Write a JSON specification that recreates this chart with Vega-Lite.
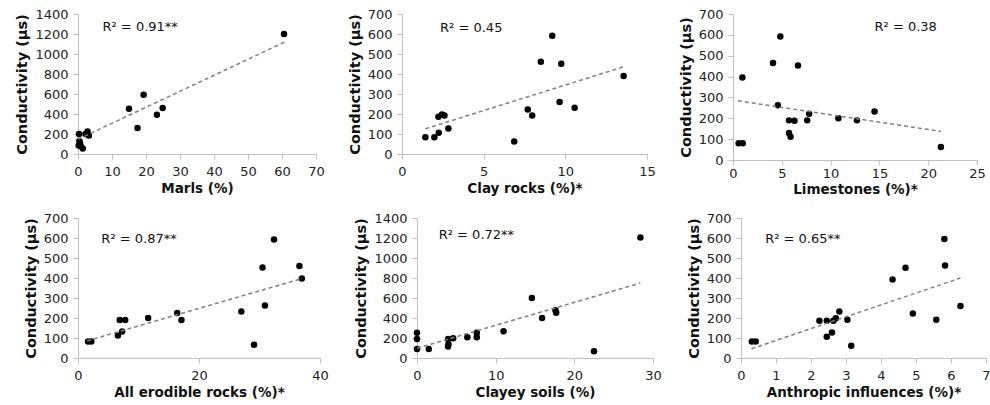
{
  "$schema": "https://vega.github.io/schema/vega-lite/v6.json",
  "padding": {"left": 14, "top": 8, "right": 5, "bottom": 5},
  "background": "white",
  "columns": 1,
  "align": "none",
  "spacing": 16,
  "datasets": {
    "marls": [{"x":0.3,"y":200},{"x":0.2,"y":85},{"x":0.6,"y":110},{"x":0.4,"y":130},{"x":1.4,"y":55},{"x":2.8,"y":226},{"x":3.2,"y":186},{"x":2.2,"y":200},{"x":0.8,"y":80},{"x":15,"y":452},{"x":17.5,"y":259},{"x":19.3,"y":592},{"x":23.2,"y":392},{"x":24.9,"y":459},{"x":60.6,"y":1200}],
    "marls_trend": [{"x":0,"y":147},{"x":61,"y":1123}],
    "clay": [{"x":1.43,"y":84},{"x":1.98,"y":84},{"x":2.25,"y":106},{"x":2.23,"y":186},{"x":2.45,"y":198},{"x":2.6,"y":193},{"x":2.84,"y":127},{"x":6.87,"y":62},{"x":7.7,"y":223},{"x":7.97,"y":193},{"x":8.5,"y":461},{"x":9.2,"y":591},{"x":9.75,"y":451},{"x":9.65,"y":260},{"x":10.57,"y":231},{"x":13.57,"y":390}],
    "clay_trend": [{"x":1.43,"y":126},{"x":13.57,"y":436}],
    "lime": [{"x":0.58,"y":80},{"x":1.0,"y":80},{"x":0.96,"y":396},{"x":4.1,"y":465},{"x":4.85,"y":592},{"x":4.6,"y":262},{"x":6.66,"y":453},{"x":5.74,"y":190},{"x":6.3,"y":188},{"x":5.74,"y":130},{"x":5.9,"y":111},{"x":7.6,"y":190},{"x":7.8,"y":222},{"x":10.8,"y":200},{"x":12.7,"y":190},{"x":14.5,"y":232},{"x":21.3,"y":62}],
    "lime_trend": [{"x":0.5,"y":284},{"x":21.3,"y":137}],
    "erod": [{"x":1.66,"y":83},{"x":2.2,"y":83},{"x":6.6,"y":113},{"x":7.3,"y":132},{"x":6.9,"y":190},{"x":7.8,"y":190},{"x":11.6,"y":200},{"x":16.4,"y":225},{"x":17.1,"y":190},{"x":27,"y":233},{"x":29.1,"y":66},{"x":30.5,"y":452},{"x":30.9,"y":262},{"x":32.4,"y":593},{"x":36.6,"y":460},{"x":37,"y":397}],
    "erod_trend": [{"x":1.5,"y":86},{"x":37,"y":397}],
    "clayey": [{"x":0,"y":252},{"x":0,"y":191},{"x":0,"y":91},{"x":1.5,"y":91},{"x":3.95,"y":191},{"x":4.0,"y":141},{"x":3.95,"y":114},{"x":4.6,"y":198},{"x":6.4,"y":208},{"x":7.6,"y":208},{"x":7.6,"y":252},{"x":11.0,"y":268},{"x":14.6,"y":601},{"x":15.9,"y":400},{"x":17.6,"y":477},{"x":17.7,"y":453},{"x":22.5,"y":67},{"x":28.4,"y":1205}],
    "clayey_trend": [{"x":0,"y":98},{"x":28.4,"y":749}],
    "anthro": [{"x":0.31,"y":83},{"x":0.42,"y":83},{"x":2.24,"y":186},{"x":2.45,"y":186},{"x":2.45,"y":106},{"x":2.6,"y":128},{"x":2.64,"y":186},{"x":2.71,"y":199},{"x":2.81,"y":232},{"x":3.04,"y":191},{"x":3.15,"y":61},{"x":4.33,"y":393},{"x":4.7,"y":451},{"x":4.91,"y":222},{"x":5.58,"y":191},{"x":5.81,"y":595},{"x":5.83,"y":463},{"x":6.27,"y":260}],
    "anthro_trend": [{"x":0.3,"y":46},{"x":6.27,"y":400}]
  },
  "concat": [
    {
      "spacing": 22,
      "hconcat": [
        {
          "width": 238, "height": 140,
          "layer": [
            {"data": {"name": "marls"}, "mark": {"type": "circle", "size": 42, "color": "black", "opacity": 1},
             "encoding": {
               "x": {"field": "x", "type": "quantitative", "scale": {"domain": [0, 70], "nice": false}, "axis": {"values": [0,10,20,30,40,50,60,70], "title": "Marls (%)"}},
               "y": {"field": "y", "type": "quantitative", "scale": {"domain": [0, 1400], "nice": false}, "axis": {"values": [0,200,400,600,800,1000,1200,1400], "title": "Conductivity (µs)"}}}},
            {"data": {"name": "marls_trend"}, "mark": {"type": "line", "color": "#7f7f7f", "strokeDash": [4, 3], "strokeWidth": 1.5},
             "encoding": {
               "x": {"field": "x", "type": "quantitative", "axis": {"values": [0,10,20,30,40,50,60,70], "title": "Marls (%)"}},
               "y": {"field": "y", "type": "quantitative", "axis": {"values": [0,200,400,600,800,1000,1200,1400], "title": "Conductivity (µs)"}}}},
            {"data": {"values": [{"label": "R² = 0.91**"}]}, "mark": {"type": "text", "align": "left", "baseline": "middle", "fontSize": 13, "color": "#111"},
             "encoding": {
               "x": {"datum": 7.2, "type": "quantitative", "axis": {"values": [0,10,20,30,40,50,60,70], "title": "Marls (%)"}},
               "y": {"datum": 1267, "type": "quantitative", "axis": {"values": [0,200,400,600,800,1000,1200,1400], "title": "Conductivity (µs)"}},
               "text": {"field": "label"}}}
          ]
        },
        {
          "width": 245, "height": 140,
          "layer": [
            {"data": {"name": "clay"}, "mark": {"type": "circle", "size": 42, "color": "black", "opacity": 1},
             "encoding": {
               "x": {"field": "x", "type": "quantitative", "scale": {"domain": [0, 15], "nice": false}, "axis": {"values": [0,5,10,15], "title": "Clay rocks (%)*"}},
               "y": {"field": "y", "type": "quantitative", "scale": {"domain": [0, 700], "nice": false}, "axis": {"values": [0,100,200,300,400,500,600,700], "title": "Conductivity (µs)"}}}},
            {"data": {"name": "clay_trend"}, "mark": {"type": "line", "color": "#7f7f7f", "strokeDash": [4, 3], "strokeWidth": 1.5},
             "encoding": {
               "x": {"field": "x", "type": "quantitative", "axis": {"values": [0,5,10,15], "title": "Clay rocks (%)*"}},
               "y": {"field": "y", "type": "quantitative", "axis": {"values": [0,100,200,300,400,500,600,700], "title": "Conductivity (µs)"}}}},
            {"data": {"values": [{"label": "R² = 0.45"}]}, "mark": {"type": "text", "align": "left", "baseline": "middle", "fontSize": 13, "color": "#111"},
             "encoding": {
               "x": {"datum": 2.33, "type": "quantitative", "axis": {"values": [0,5,10,15], "title": "Clay rocks (%)*"}},
               "y": {"datum": 628, "type": "quantitative", "axis": {"values": [0,100,200,300,400,500,600,700], "title": "Conductivity (µs)"}},
               "text": {"field": "label"}}}
          ]
        },
        {
          "width": 244, "height": 146,
          "layer": [
            {"data": {"name": "lime"}, "mark": {"type": "circle", "size": 42, "color": "black", "opacity": 1},
             "encoding": {
               "x": {"field": "x", "type": "quantitative", "scale": {"domain": [0, 25], "nice": false}, "axis": {"values": [0,5,10,15,20,25], "title": "Limestones (%)*", "titlePadding": 2, "labelPadding": 2}},
               "y": {"field": "y", "type": "quantitative", "scale": {"domain": [0, 700], "nice": false}, "axis": {"values": [0,100,200,300,400,500,600,700], "title": "Conductivity (µs)"}}}},
            {"data": {"name": "lime_trend"}, "mark": {"type": "line", "color": "#7f7f7f", "strokeDash": [4, 3], "strokeWidth": 1.5},
             "encoding": {
               "x": {"field": "x", "type": "quantitative", "axis": {"values": [0,5,10,15,20,25], "title": "Limestones (%)*", "titlePadding": 2, "labelPadding": 2}},
               "y": {"field": "y", "type": "quantitative", "axis": {"values": [0,100,200,300,400,500,600,700], "title": "Conductivity (µs)"}}}},
            {"data": {"values": [{"label": "R² = 0.38"}]}, "mark": {"type": "text", "align": "left", "baseline": "middle", "fontSize": 13, "color": "#111"},
             "encoding": {
               "x": {"datum": 14.5, "type": "quantitative", "axis": {"values": [0,5,10,15,20,25], "title": "Limestones (%)*", "titlePadding": 2, "labelPadding": 2}},
               "y": {"datum": 636, "type": "quantitative", "axis": {"values": [0,100,200,300,400,500,600,700], "title": "Conductivity (µs)"}},
               "text": {"field": "label"}}}
          ]
        }
      ]
    },
    {
      "spacing": 24,
      "hconcat": [
        {
          "width": 242, "height": 140,
          "layer": [
            {"data": {"name": "erod"}, "mark": {"type": "circle", "size": 42, "color": "black", "opacity": 1},
             "encoding": {
               "x": {"field": "x", "type": "quantitative", "scale": {"domain": [0, 40], "nice": false}, "axis": {"values": [0,20,40], "title": "All erodible rocks (%)*"}},
               "y": {"field": "y", "type": "quantitative", "scale": {"domain": [0, 700], "nice": false}, "axis": {"values": [0,100,200,300,400,500,600,700], "title": "Conductivity (µs)"}}}},
            {"data": {"name": "erod_trend"}, "mark": {"type": "line", "color": "#7f7f7f", "strokeDash": [4, 3], "strokeWidth": 1.5},
             "encoding": {
               "x": {"field": "x", "type": "quantitative", "axis": {"values": [0,20,40], "title": "All erodible rocks (%)*"}},
               "y": {"field": "y", "type": "quantitative", "axis": {"values": [0,100,200,300,400,500,600,700], "title": "Conductivity (µs)"}}}},
            {"data": {"values": [{"label": "R² = 0.87**"}]}, "mark": {"type": "text", "align": "left", "baseline": "middle", "fontSize": 13, "color": "#111"},
             "encoding": {
               "x": {"datum": 3.86, "type": "quantitative", "axis": {"values": [0,20,40], "title": "All erodible rocks (%)*"}},
               "y": {"datum": 593, "type": "quantitative", "axis": {"values": [0,100,200,300,400,500,600,700], "title": "Conductivity (µs)"}},
               "text": {"field": "label"}}}
          ]
        },
        {
          "width": 236, "height": 140,
          "layer": [
            {"data": {"name": "clayey"}, "mark": {"type": "circle", "size": 42, "color": "black", "opacity": 1},
             "encoding": {
               "x": {"field": "x", "type": "quantitative", "scale": {"domain": [0, 30], "nice": false}, "axis": {"values": [0,10,20,30], "title": "Clayey soils (%)"}},
               "y": {"field": "y", "type": "quantitative", "scale": {"domain": [0, 1400], "nice": false}, "axis": {"values": [0,200,400,600,800,1000,1200,1400], "title": "Conductivity (µs)"}}}},
            {"data": {"name": "clayey_trend"}, "mark": {"type": "line", "color": "#7f7f7f", "strokeDash": [4, 3], "strokeWidth": 1.5},
             "encoding": {
               "x": {"field": "x", "type": "quantitative", "axis": {"values": [0,10,20,30], "title": "Clayey soils (%)"}},
               "y": {"field": "y", "type": "quantitative", "axis": {"values": [0,200,400,600,800,1000,1200,1400], "title": "Conductivity (µs)"}}}},
            {"data": {"values": [{"label": "R² = 0.72**"}]}, "mark": {"type": "text", "align": "left", "baseline": "middle", "fontSize": 13, "color": "#111"},
             "encoding": {
               "x": {"datum": 2.76, "type": "quantitative", "axis": {"values": [0,10,20,30], "title": "Clayey soils (%)"}},
               "y": {"datum": 1232, "type": "quantitative", "axis": {"values": [0,200,400,600,800,1000,1200,1400], "title": "Conductivity (µs)"}},
               "text": {"field": "label"}}}
          ]
        },
        {
          "width": 245, "height": 140,
          "layer": [
            {"data": {"name": "anthro"}, "mark": {"type": "circle", "size": 42, "color": "black", "opacity": 1},
             "encoding": {
               "x": {"field": "x", "type": "quantitative", "scale": {"domain": [0, 7], "nice": false}, "axis": {"values": [0,1,2,3,4,5,6,7], "title": "Anthropic influences (%)*"}},
               "y": {"field": "y", "type": "quantitative", "scale": {"domain": [0, 700], "nice": false}, "axis": {"values": [0,100,200,300,400,500,600,700], "title": "Conductivity (µs)"}}}},
            {"data": {"name": "anthro_trend"}, "mark": {"type": "line", "color": "#7f7f7f", "strokeDash": [4, 3], "strokeWidth": 1.5},
             "encoding": {
               "x": {"field": "x", "type": "quantitative", "axis": {"values": [0,1,2,3,4,5,6,7], "title": "Anthropic influences (%)*"}},
               "y": {"field": "y", "type": "quantitative", "axis": {"values": [0,100,200,300,400,500,600,700], "title": "Conductivity (µs)"}}}},
            {"data": {"values": [{"label": "R² = 0.65**"}]}, "mark": {"type": "text", "align": "left", "baseline": "middle", "fontSize": 13, "color": "#111"},
             "encoding": {
               "x": {"datum": 0.69, "type": "quantitative", "axis": {"values": [0,1,2,3,4,5,6,7], "title": "Anthropic influences (%)*"}},
               "y": {"datum": 597, "type": "quantitative", "axis": {"values": [0,100,200,300,400,500,600,700], "title": "Conductivity (µs)"}},
               "text": {"field": "label"}}}
          ]
        }
      ]
    }
  ],
  "config": {
    "font": "DejaVu Sans",
    "view": {"stroke": null},
    "axis": {"grid": false, "domainColor": "#bfbfbf", "tickColor": "#bfbfbf", "tickSize": 5, "labelFont": "DejaVu Sans", "labelFontSize": 13, "labelColor": "#222", "titleFont": "DejaVu Sans", "titleFontWeight": "bold", "titleColor": "#111", "labelFlush": false, "labelOverlap": false, "format": "d"},
    "axisX": {"labelPadding": 6, "titlePadding": 3, "titleFontSize": 13.5},
    "axisY": {"labelPadding": 5, "titlePadding": 5, "titleFontSize": 14.5}
  }
}
